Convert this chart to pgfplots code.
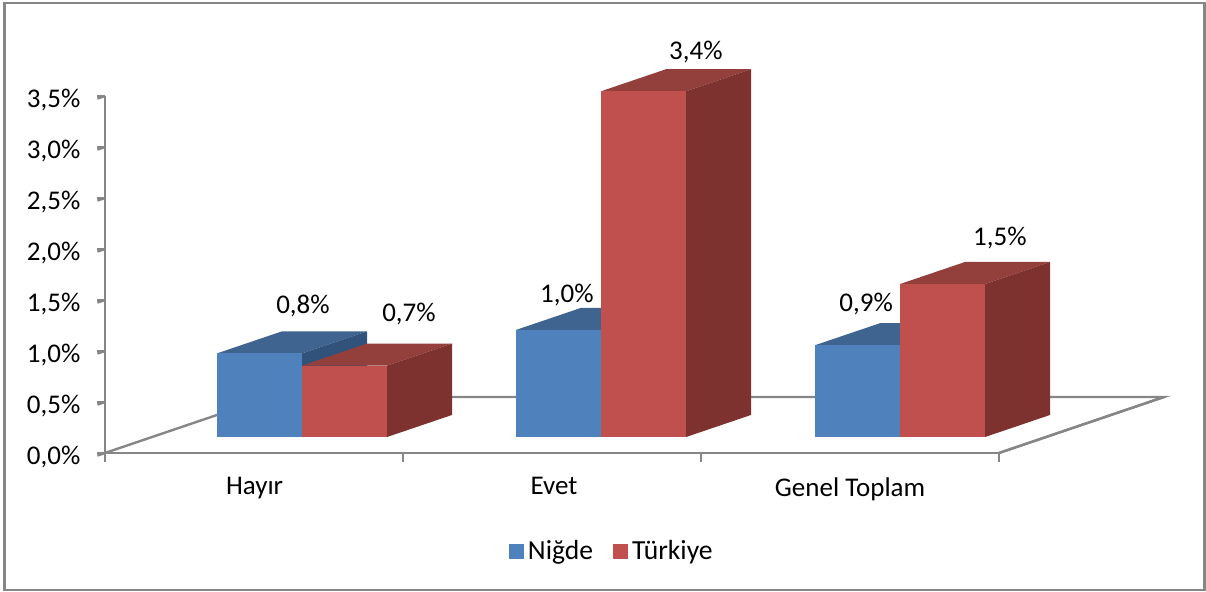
\documentclass[border=0pt]{standalone}
\usepackage{pgfplots}
\pgfplotsset{compat=1.18}
\usepackage{fontspec}
\setmainfont{Carlito}

\definecolor{blueF}{HTML}{4F81BD}
\definecolor{blueT}{HTML}{3F648F}
\definecolor{blueS}{HTML}{31527A}
\definecolor{redF}{HTML}{C0504D}
\definecolor{redT}{HTML}{93403D}
\definecolor{redS}{HTML}{7D3230}
\definecolor{axisgray}{HTML}{868686}

% x0, x1, value, colour prefix
\newcommand{\cuboid}[4]{
  \addplot3[fill=#4T,draw=none,forget plot] coordinates {(#1,0.286,#3)(#2,0.286,#3)(#2,0.68,#3)(#1,0.68,#3)} --cycle;
  \addplot3[fill=#4S,draw=none,forget plot] coordinates {(#2,0.286,0)(#2,0.68,0)(#2,0.68,#3)(#2,0.286,#3)} --cycle;
  \addplot3[fill=#4F,draw=none,forget plot] coordinates {(#1,0.286,0)(#2,0.286,0)(#2,0.286,#3)(#1,0.286,#3)} --cycle;
}

\begin{document}
\begin{tikzpicture}
\path[use as bounding box] (0pt,0pt) rectangle (603pt,296pt);
\draw[axisgray,line width=1.1pt] (2.25pt,1pt) rectangle (602.25pt,294.5pt);
\begin{axis}[
  at={(52.5pt,69.5pt)},
  anchor=origin,
  x={(149pt,0pt)},
  y={(82.5pt,28pt)},
  z={(0pt,51pt)},
  xmin=0,xmax=3,ymin=0,ymax=1,zmin=0,zmax=3.5,
  axis lines=left,
  axis line style={axisgray,line width=1.2pt,-},
  clip=false,
  font=\fontsize{13.5pt}{15pt}\selectfont,
  ytick=\empty,
  ztick={0,0.5,1,1.5,2,2.5,3,3.5},
  zticklabel={\pgfmathprintnumber{\tick}\%},
  zticklabel style={xshift=-5pt,yshift=2.2pt},
  /pgf/number format/.cd,assume math mode=true,use comma,fixed,fixed zerofill,precision=1,/pgfplots/.cd,
  xtick={0.5,1.5,2.5},
  xticklabels={Hayır,Evet,Genel Toplam},
  xticklabel style={xshift=10.5pt,yshift=-7.5pt},
  major x tick style={draw=none},
  tick align=outside,
  major tick length=4pt,
  tick style={axisgray,line width=1.2pt},
  legend image code/.code={\path[#1,draw=none] (0pt,-3.75pt) rectangle (7.5pt,3.75pt);},
  legend style={draw=none,fill=none,legend columns=2,font=\fontsize{13.8pt}{15pt}\selectfont,
    at={(0.4795,-0.238)},anchor=center,/tikz/every even column/.style={column sep=8pt}},
]
\addlegendimage{fill=blueF}
\addlegendentry{Niğde}
\addlegendimage{fill=redF}
\addlegendentry{Türkiye}
% floor outline
\addplot3[axisgray,line width=1.2pt,forget plot] coordinates {(0,0,0)(0,1,0)(3,1,0)(3,0,0)};
% category boundary ticks, straight down
\addplot3[axisgray,line width=1.2pt,forget plot] coordinates {(0,0,0)(0,0,-0.09)};
\addplot3[axisgray,line width=1.2pt,forget plot] coordinates {(1,0,0)(1,0,-0.09)};
\addplot3[axisgray,line width=1.2pt,forget plot] coordinates {(2,0,0)(2,0,-0.09)};
\addplot3[axisgray,line width=1.2pt,forget plot] coordinates {(3,0,0)(3,0,-0.09)};
% Hayır
\cuboid{0.2181}{0.5033}{0.82}{blue}
\cuboid{0.5033}{0.7886}{0.70}{red}
% Evet
\cuboid{1.2215}{1.5068}{1.05}{blue}
\cuboid{1.5068}{1.7920}{3.39}{red}
% Genel Toplam
\cuboid{2.2248}{2.5101}{0.90}{blue}
\cuboid{2.5101}{2.7953}{1.50}{red}
% data labels
\node at (axis cs:0.6644,0,1.44) {0,8\%};
\node at (axis cs:1.0200,0,1.363) {0,7\%};
\node at (axis cs:1.5500,0,1.55) {1,0\%};
\node at (axis cs:1.9830,0,3.93) {3,4\%};
\node at (axis cs:2.5540,0,1.46) {0,9\%};
\node at (axis cs:3.0030,0,2.108) {1,5\%};
\end{axis}
\end{tikzpicture}
\end{document}
